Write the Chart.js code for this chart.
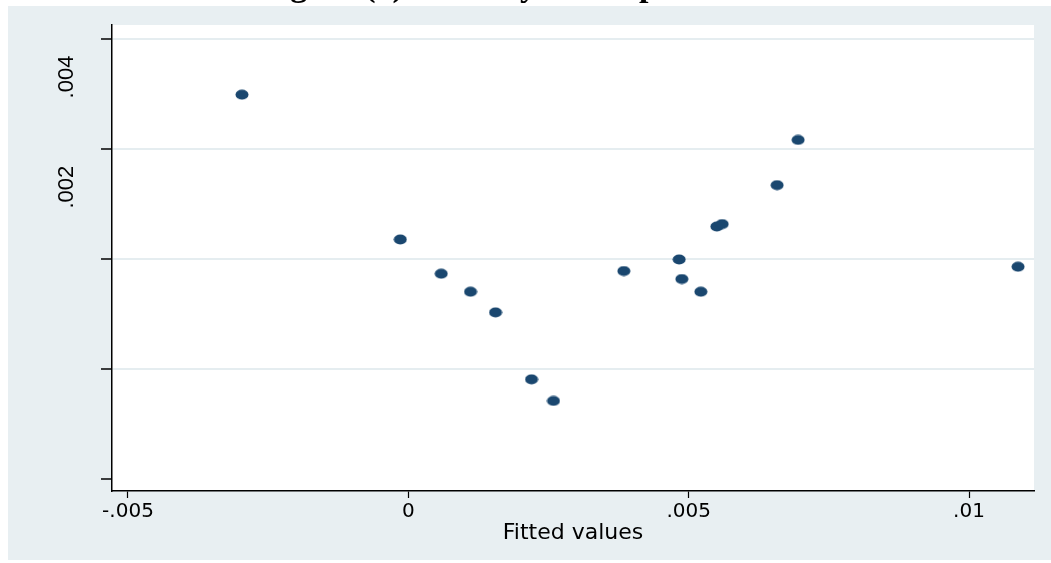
<!DOCTYPE html>
<html>
<head>
<meta charset="utf-8">
<script src="https://cdn.jsdelivr.net/npm/chart.js@4/dist/chart.umd.min.js"></script>
<style>
  html, body { margin: 0; padding: 0; background: #ffffff; }
  #wrap { width: 1051px; height: 563px; }
</style>
</head>
<body>
<div id="wrap"><canvas id="scatterChart"></canvas></div>
<script>
// Fitted values (x) against the series (y)
const fittedValues = [
  -0.002967, -0.000144, 0.000587, 0.001109, 0.001555, 0.002197, 0.002589, 0.003844,
  0.004830, 0.004878, 0.005217, 0.005502, 0.005597, 0.006577, 0.006952, 0.010874
];
const seriesValues = [
  0.002983, 0.000354, -0.000268, -0.000595, -0.000970, -0.002185, -0.002577, -0.000219,
  -0.000009, -0.000364, -0.000595, 0.000589, 0.000633, 0.001340, 0.002161, -0.000141
];

const xTickValues = [-0.005, 0, 0.005, 0.01];
const xTickLabels = ["-.005", "0", ".005", ".01"];
const yTickValues = [-0.004, -0.002, 0, 0.002, 0.004];
const yTickLabels = ["", "", "", ".002", ".004"];

const titleText = "Figure (3) Monthly Risk Spread";
const xTitle = "Fitted values";

const navy = "#1a476f";
const outerBg = "#e8eff2";
const gridColor = "#e5edf0";

// oval marker, as in the picture
const dot = document.createElement("canvas");
dot.width = 14;
dot.height = 11;
const dctx = dot.getContext("2d");
dctx.fillStyle = navy;
dctx.beginPath();
dctx.ellipse(7, 5.5, 6.5, 5, 0, 0, Math.PI * 2);
dctx.fill();

const points = fittedValues.map((x, i) => ({ x: x, y: seriesValues[i] }));

const backdrop = {
  id: "backdrop",
  beforeDraw(chart) {
    const { ctx, chartArea } = chart;
    ctx.save();
    ctx.fillStyle = "#ffffff";
    ctx.fillRect(0, 0, chart.width, chart.height);
    ctx.fillStyle = outerBg;
    ctx.fillRect(8, 6, chart.width - 8, 554);
    ctx.fillStyle = "#ffffff";
    ctx.fillRect(chartArea.left, chartArea.top, chartArea.right - chartArea.left, chartArea.bottom - chartArea.top);
    ctx.restore();
  },
  afterDraw(chart) {
    // title sits mostly above the picture, only descenders show
    const ctx = chart.ctx;
    ctx.save();
    ctx.fillStyle = "#000000";
    ctx.font = "bold 34px 'Liberation Serif'";
    ctx.textAlign = "left";
    ctx.textBaseline = "alphabetic";
    ctx.fillText(titleText, 260, -4);
    ctx.restore();
  }
};

const scatterChart = document.getElementById("scatterChart");

new Chart(scatterChart, {
  type: "scatter",
  data: {
    datasets: [
      {
        data: points,
        pointStyle: dot,
        pointRadius: 6,
        backgroundColor: navy,
        borderColor: navy,
      },
    ],
  },
  options: {
    responsive: true,
    maintainAspectRatio: false,
    animation: false,
    layout: { padding: { top: 25, right: 17, left: 0, bottom: 0 } },
    plugins: {
      legend: { display: false },
      tooltip: { enabled: false },
    },
    scales: {
      x: {
        type: "linear",
        min: -0.005285,
        max: 0.011159,
        afterBuildTicks: (scale) => {
          scale.ticks = xTickValues.map((v) => ({ value: v }));
        },
        afterFit: (scale) => {
          scale.height = 72;
          scale.paddingLeft = 0;
          scale.paddingRight = 0;
        },
        grid: {
          drawOnChartArea: false,
          tickLength: 7,
          tickColor: "#000000",
          tickWidth: 1.2,
        },
        border: { display: true, color: "#000000", width: 1.5 },
        ticks: {
          autoSkip: false,
          maxRotation: 0,
          padding: 2,
          color: "#000000",
          font: { family: "'DejaVu Sans'", size: 20 },
          callback: (value) => {
            const i = xTickValues.findIndex((v) => Math.abs(v - value) < 1e-9);
            return i >= 0 ? xTickLabels[i] : "";
          },
        },
        title: {
          display: true,
          text: xTitle,
          color: "#000000",
          font: { family: "'DejaVu Sans'", size: 22 },
          padding: { top: 0, bottom: 17 },
        },
      },
      y: {
        type: "linear",
        min: -0.004212,
        max: 0.004247,
        afterBuildTicks: (scale) => {
          scale.ticks = yTickValues.map((v) => ({ value: v }));
        },
        afterFit: (scale) => {
          scale.width = 112;
          scale.paddingTop = 0;
          scale.paddingBottom = 0;
        },
        grid: {
          color: (ctx) => (ctx.tick && ctx.tick.value < -0.003 ? "rgba(0,0,0,0)" : gridColor),
          lineWidth: 2,
          tickLength: 11,
          tickColor: "#000000",
          tickWidth: 1.5,
        },
        border: { display: true, color: "#000000", width: 1.5 },
        ticks: {
          autoSkip: false,
          minRotation: 90,
          maxRotation: 90,
          padding: 34,
          labelOffset: 17,
          color: "#000000",
          font: { family: "'Liberation Sans'", size: 22 },
          callback: (value) => {
            const i = yTickValues.findIndex((v) => Math.abs(v - value) < 1e-9);
            return i >= 0 ? yTickLabels[i] : "";
          },
        },
      },
    },
  },
  plugins: [backdrop],
});
</script>
</body>
</html>
